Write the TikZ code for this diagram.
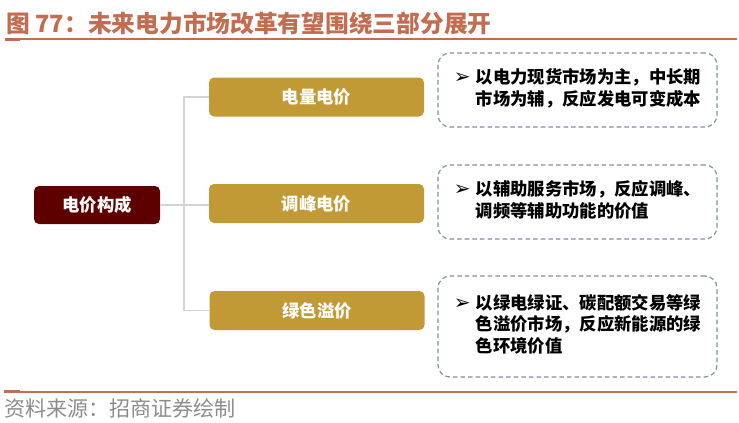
\documentclass[tikz,border=0pt]{standalone}
\usepackage{fontspec}
\setmainfont{Noto Sans CJK SC}
\newfontfamily\symfont{DejaVu Sans}
\definecolor{titlered}{RGB}{194,108,80}
\definecolor{rootred}{RGB}{94,0,0}
\definecolor{gold}{RGB}{193,154,53}
\definecolor{dashblue}{RGB}{128,142,165}
\definecolor{linkgray}{RGB}{212,212,212}
\definecolor{srcgray}{RGB}{140,140,140}
\newcommand{\bulletarrow}{{\symfont\fontsize{15pt}{15pt}\selectfont ➢}}

\begin{document}
\begin{tikzpicture}[x=0.75pt, y=-0.75pt, line cap=round, line join=round,
    base/.style={font=\bfseries\fontsize{13pt}{15.75pt}\selectfont, inner sep=0pt, rounded corners=3.75pt},
    rootbox/.style={base, fill=rootred, text=white, minimum width=126*0.75pt, minimum height=38*0.75pt},
    pricebox/.style={base, fill=gold, text=white, minimum width=215*0.75pt, minimum height=39*0.75pt},
    notebox/.style={draw=dashblue, line width=0.9pt, line cap=butt, dash pattern=on 3.4pt off 2.3pt,
      rounded corners=9pt, inner sep=0pt, minimum width=279*0.75pt,
      font=\bfseries\fontsize{13pt}{15.75pt}\selectfont, align=left},
    link/.style={draw=linkgray, line width=1.1pt, line cap=butt}]

      \useasboundingbox (0,0) rectangle (739,422);

      % --- TITLU ---
      \node[anchor=west, inner sep=0pt, text=titlered, font=\bfseries\fontsize{17.8pt}{20pt}\selectfont]
        (title) at (6,23) {图 77：未来电力市场改革有望围绕三部分展开};
      \draw[titlered, line width=1.5pt, line cap=butt] (5,38.5) -- (737,38.5);
      \draw[titlered, line width=1.5pt, line cap=butt] (5,40) -- (20,40);

      % --- NODURI ---
      \node[rootbox]  (root)  at (97,205)    {电价构成};
      \node[pricebox] (energy) at (316.5,97)  {电量电价};
      \node[pricebox] (peak)   at (316.5,203.5) {调峰电价};
      \node[pricebox] (green)  at (317,310.5) {绿色溢价};

      % --- CASETE CU EXPLICATII ---
      \node[notebox, minimum height=74*0.75pt] (note1) at (577.5,90) {%
        \begin{tabular}{@{}l@{\hspace{4pt}}l@{}}
          \bulletarrow & 以电力现货市场为主，中长期\\
                       & 市场为辅，反应发电可变成本
        \end{tabular}};
      \node[notebox, minimum height=74*0.75pt] (note2) at (577.5,202) {%
        \begin{tabular}{@{}l@{\hspace{4pt}}l@{}}
          \bulletarrow & 以辅助服务市场，反应调峰、\\
                       & 调频等辅助功能的价值
        \end{tabular}};
      \node[notebox, minimum height=101*0.75pt] (note3) at (577.5,326.5) {%
        \begin{tabular}{@{}l@{\hspace{4pt}}l@{}}
          \bulletarrow & 以绿电绿证、碳配额交易等绿\\
                       & 色溢价市场，反应新能源的绿\\
                       & 色环境价值
        \end{tabular}};

      % --- LEGATURI ---
      \coordinate (fork) at (184,205);
      \draw[link] (root.east) -- (peak.west |- root.east);
      \draw[link] (energy.west) -| (fork) |- (green.west);

      % --- SURSA ---
      \draw[titlered, line width=1.5pt, line cap=butt] (4,392) -- (737,392);
      \draw[titlered, line width=1.5pt, line cap=butt] (4,390.5) -- (20,390.5);
      \node[anchor=west, inner sep=0pt, text=srcgray, font=\fontsize{15.8pt}{18pt}\selectfont]
        (source) at (4,408) {资料来源：招商证券绘制};

    \end{tikzpicture}
\end{document}
